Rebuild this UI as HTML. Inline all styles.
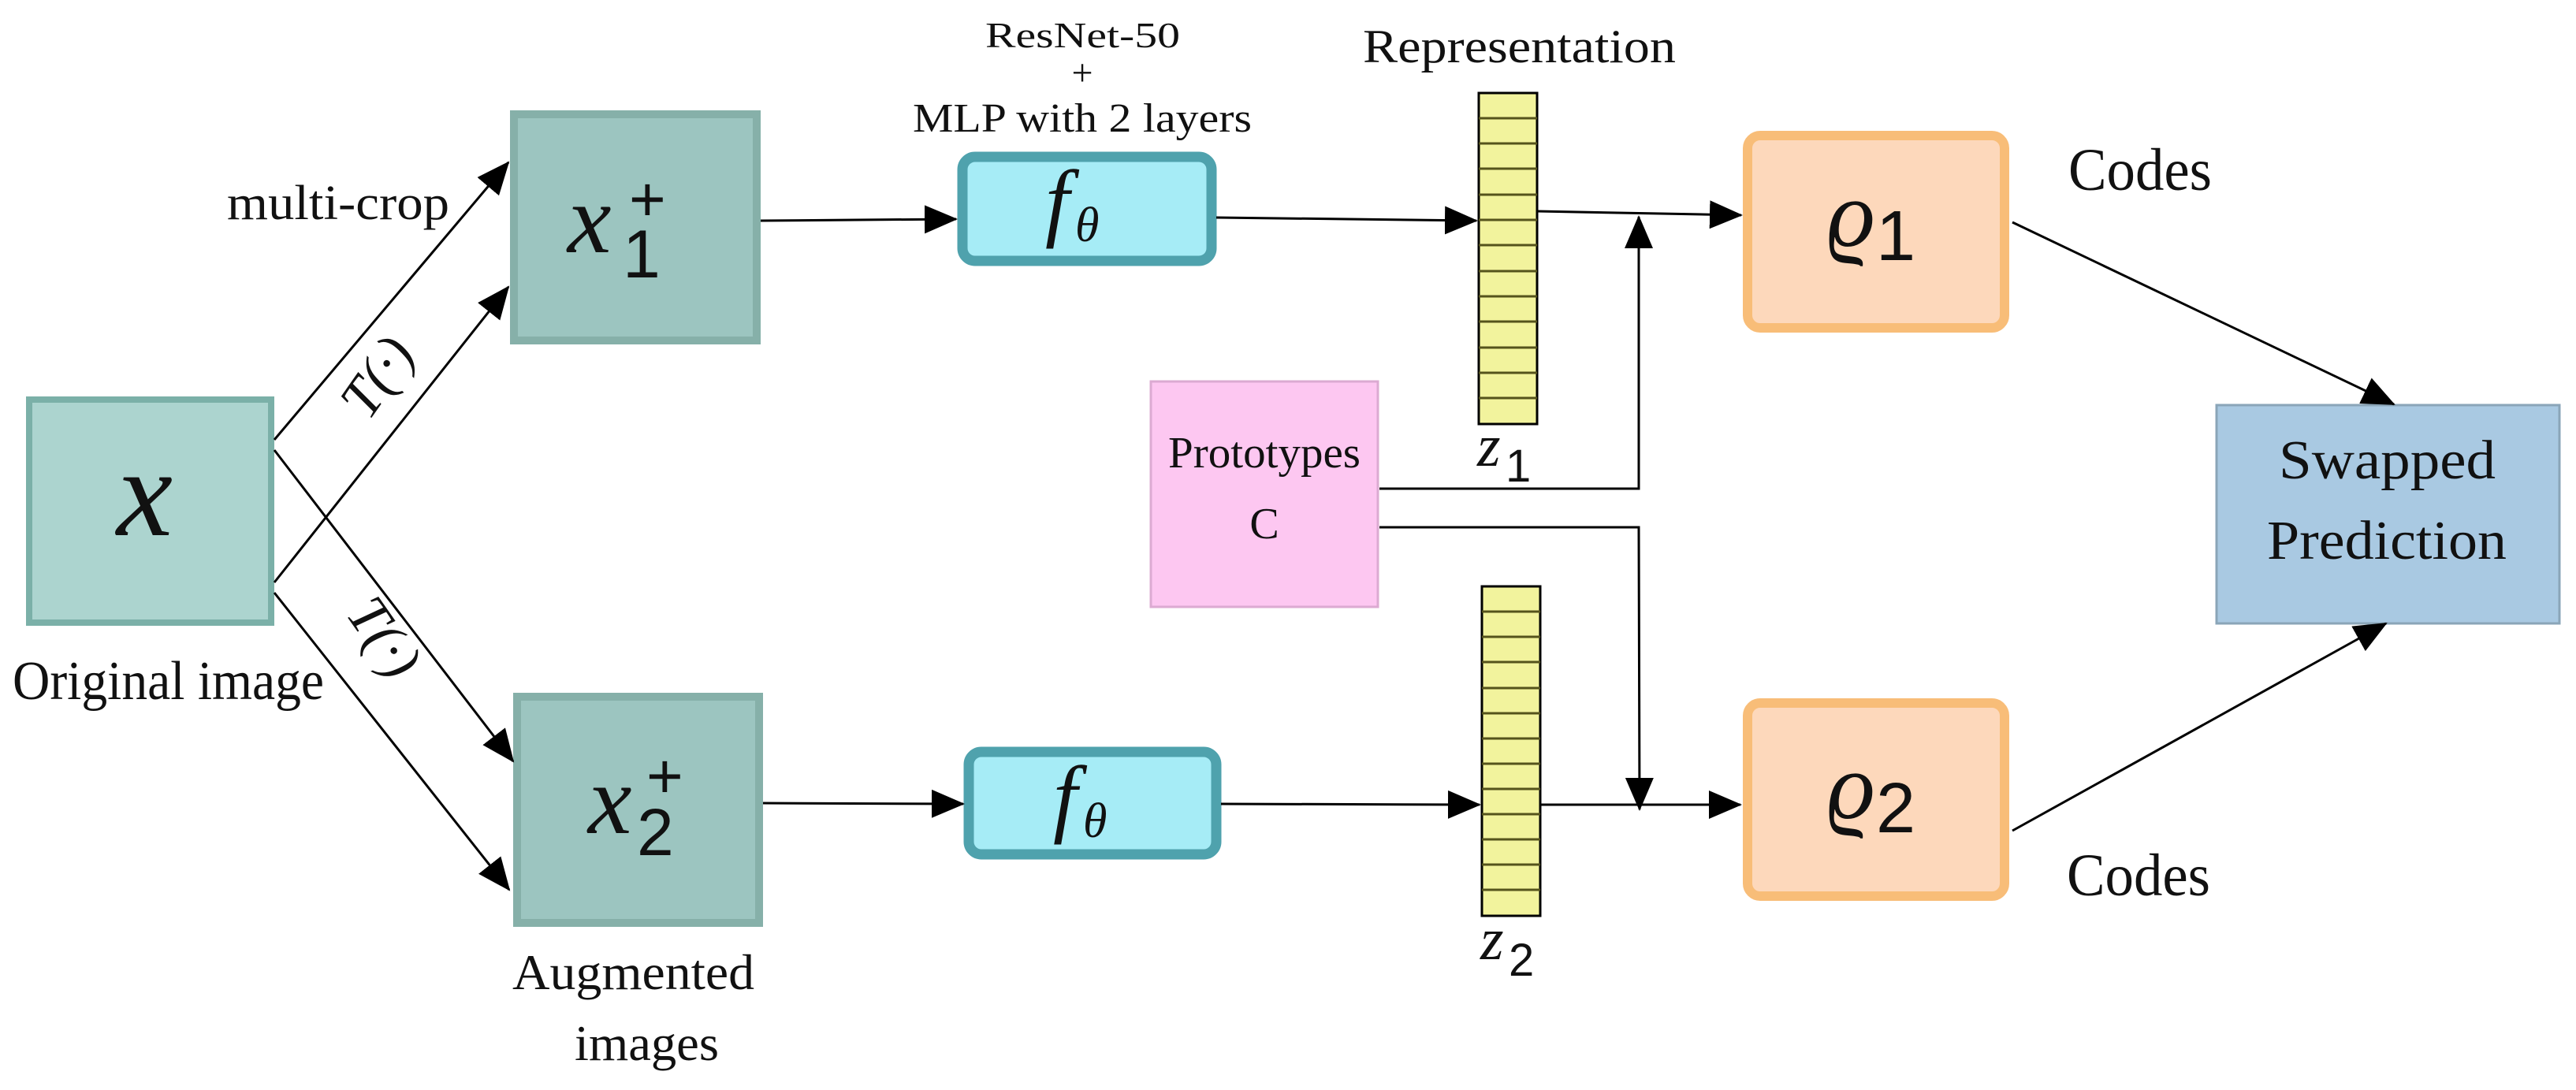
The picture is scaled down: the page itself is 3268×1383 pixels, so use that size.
<!DOCTYPE html>
<html><head><meta charset="utf-8"><style>
html,body{margin:0;padding:0;background:#fff;}
svg{display:block;}
text{font-family:"Liberation Serif","Times New Roman",Times,serif;fill:#111;}
.m{font-family:"Liberation Serif","Times New Roman",Times,serif;font-style:italic;}
.d{font-family:"Liberation Sans",Arial,sans-serif;}
</style></head><body>
<svg width="3268" height="1383" viewBox="0 0 3268 1383" xmlns="http://www.w3.org/2000/svg" font-family="Liberation Serif, Times New Roman, serif">
<defs>
<marker id="a" markerUnits="userSpaceOnUse" markerWidth="42" markerHeight="36" refX="40" refY="18" orient="auto">
<path d="M0,0 L42,18 L0,36 z" fill="#000"/>
</marker>
</defs>
<rect x="0" y="0" width="3268" height="1383" fill="#fff"/>

<rect x="37" y="507" width="307" height="283" fill="#acd4cf" stroke="#7bb0a8" stroke-width="8"/>
<rect x="652" y="145" width="308" height="287" fill="#9cc5c0" stroke="#86b0a9" stroke-width="10"/>
<rect x="656" y="884" width="307" height="287" fill="#9cc5c0" stroke="#86b0a9" stroke-width="10"/>
<rect x="1221" y="199" width="316" height="132" rx="16" fill="#a6ecf6" stroke="#4fa2ad" stroke-width="13"/>
<rect x="1229" y="954" width="314" height="130" rx="16" fill="#a6ecf6" stroke="#4fa2ad" stroke-width="13"/>
<rect x="1460" y="484" width="288" height="286" fill="#fdc7f1" stroke="#dcaad2" stroke-width="3"/>
<rect x="2217" y="172" width="326" height="244" rx="16" fill="#fdd8bb" stroke="#f8bd78" stroke-width="12"/>
<rect x="2217" y="892" width="326" height="245" rx="16" fill="#fdd8bb" stroke="#f8bd78" stroke-width="12"/>
<rect x="2812" y="514" width="435" height="277" fill="#a9c9e2" stroke="#8aa5b8" stroke-width="3"/>

<g stroke="#000" stroke-width="3" fill="#f2f39d">
<rect x="1876" y="118" width="74" height="420"/>
<rect x="1880" y="744" width="74" height="418"/>
</g>
<g stroke="#55531c" stroke-width="3">
<line x1="1876" y1="150" x2="1950" y2="150"/><line x1="1876" y1="182" x2="1950" y2="182"/><line x1="1876" y1="214" x2="1950" y2="214"/><line x1="1876" y1="247" x2="1950" y2="247"/><line x1="1876" y1="279" x2="1950" y2="279"/><line x1="1876" y1="311" x2="1950" y2="311"/><line x1="1876" y1="344" x2="1950" y2="344"/><line x1="1876" y1="376" x2="1950" y2="376"/><line x1="1876" y1="408" x2="1950" y2="408"/><line x1="1876" y1="441" x2="1950" y2="441"/><line x1="1876" y1="473" x2="1950" y2="473"/><line x1="1876" y1="505" x2="1950" y2="505"/>
<line x1="1880" y1="776" x2="1954" y2="776"/><line x1="1880" y1="808" x2="1954" y2="808"/><line x1="1880" y1="840" x2="1954" y2="840"/><line x1="1880" y1="873" x2="1954" y2="873"/><line x1="1880" y1="905" x2="1954" y2="905"/><line x1="1880" y1="937" x2="1954" y2="937"/><line x1="1880" y1="969" x2="1954" y2="969"/><line x1="1880" y1="1001" x2="1954" y2="1001"/><line x1="1880" y1="1033" x2="1954" y2="1033"/><line x1="1880" y1="1065" x2="1954" y2="1065"/><line x1="1880" y1="1097" x2="1954" y2="1097"/><line x1="1880" y1="1129" x2="1954" y2="1129"/>
</g>

<g stroke="#000" stroke-width="3" fill="none" marker-end="url(#a)">
<line x1="348" y1="558" x2="645" y2="206"/>
<line x1="348" y1="739" x2="645" y2="364"/>
<line x1="348" y1="571" x2="651" y2="966"/>
<line x1="348" y1="752" x2="646" y2="1129"/>
<line x1="965" y1="280" x2="1213" y2="278"/>
<line x1="1543" y1="276" x2="1873" y2="280"/>
<line x1="1950" y1="268" x2="2209" y2="273"/>
<polyline points="1750,620 2079,620 2079,275"/>
<polyline points="1750,669 2079,669 2080,1027"/>
<line x1="968" y1="1019" x2="1222" y2="1020"/>
<line x1="1549" y1="1020" x2="1877" y2="1021"/>
<line x1="1954" y1="1021" x2="2208" y2="1021"/>
<line x1="2553" y1="282" x2="3037" y2="513"/>
<line x1="2553" y1="1054" x2="3027" y2="791"/>
</g>

<text x="16" y="887" font-size="70" textLength="395" lengthAdjust="spacingAndGlyphs">Original image</text>
<text x="288" y="278" font-size="62" textLength="282" lengthAdjust="spacingAndGlyphs">multi-crop</text>
<text x="650" y="1255" font-size="64" textLength="307" lengthAdjust="spacingAndGlyphs">Augmented</text>
<text x="729" y="1345" font-size="64" textLength="183" lengthAdjust="spacingAndGlyphs">images</text>
<text x="1250" y="60" font-size="46" textLength="247" lengthAdjust="spacingAndGlyphs">ResNet-50</text>
<text x="1373" y="108" font-size="48" text-anchor="middle">+</text>
<text x="1158" y="167" font-size="52" textLength="430" lengthAdjust="spacingAndGlyphs">MLP with 2 layers</text>
<text x="1729" y="79" font-size="60" textLength="397" lengthAdjust="spacingAndGlyphs">Representation</text>
<text x="1482" y="593" font-size="56" textLength="244" lengthAdjust="spacingAndGlyphs">Prototypes</text>
<text x="1604" y="683" font-size="56" text-anchor="middle">C</text>
<text x="2624" y="241" font-size="76" textLength="182" lengthAdjust="spacingAndGlyphs">Codes</text>
<text x="2622" y="1136" font-size="76" textLength="182" lengthAdjust="spacingAndGlyphs">Codes</text>
<text x="2891" y="607" font-size="70" textLength="275" lengthAdjust="spacingAndGlyphs">Swapped</text>
<text x="2876" y="709" font-size="70" textLength="304" lengthAdjust="spacingAndGlyphs">Prediction</text>

<text class="m" x="0" y="0" font-size="72" text-anchor="middle" transform="translate(498,492) rotate(-55)">T(·)</text>
<text class="m" x="0" y="0" font-size="72" text-anchor="middle" transform="translate(468,822) rotate(55)">T(·)</text>

<text class="m" x="148" y="679" font-size="160">x</text>
<text class="m" x="720" y="320" font-size="125">x</text>
<text class="d" x="790" y="352" font-size="86">1</text>
<text class="d" x="798" y="280" font-size="80">+</text>
<text class="m" x="746" y="1057" font-size="125">x</text>
<text class="d" x="808" y="1085" font-size="84">2</text>
<text class="d" x="820" y="1012" font-size="80">+</text>
<text class="m" x="1326" y="292" font-size="110">f</text>
<text class="m" x="1364" y="306" font-size="62">θ</text>
<text class="m" x="1336" y="1048" font-size="110">f</text>
<text class="m" x="1374" y="1062" font-size="62">θ</text>
<text class="m" x="2318" y="312" font-size="120">ϱ</text>
<text class="d" x="2380" y="330" font-size="90">1</text>
<text class="m" x="2318" y="1038" font-size="120">ϱ</text>
<text class="d" x="2380" y="1056" font-size="90">2</text>
<text class="m" x="1874" y="591" font-size="76">z</text>
<text class="d" x="1910" y="611" font-size="58">1</text>
<text class="m" x="1878" y="1217" font-size="76">z</text>
<text class="d" x="1914" y="1238" font-size="58">2</text>
</svg>
</body></html>
